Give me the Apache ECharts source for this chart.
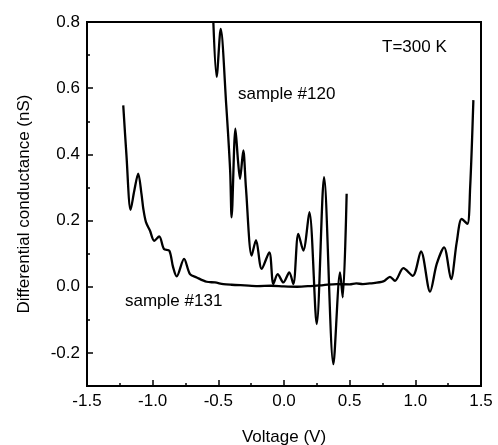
<!DOCTYPE html>
<html>
<head>
<meta charset="utf-8">
<script src="https://cdn.jsdelivr.net/npm/echarts@6/dist/echarts.min.js"></script>
<style>
html,body{margin:0;padding:0;background:#fff;}
#chart{width:498px;height:445px;}
</style>
</head>
<body>
<div id="chart"></div>
<script>
// sample #131 (voltage in V, differential conductance in nS)
const sample131V = [-1.224,-1.200,-1.168,-1.140,-1.110,-1.085,-1.071,-1.051,-1.021,-0.988,-0.950,-0.914,-0.873,-0.845,-0.817,-0.761,-0.716,-0.665,-0.589,-0.526,-0.462,-0.40,-0.30,-0.20,-0.10,0.00,0.10,0.20,0.30,0.40,0.50,0.55,0.60,0.655,0.756,0.807,0.845,0.909,0.980,1.043,1.112,1.163,1.219,1.272,1.315,1.353,1.396,1.417,1.442];
const sample131G = [0.548,0.400,0.232,0.290,0.342,0.280,0.235,0.195,0.170,0.139,0.152,0.114,0.109,0.060,0.031,0.084,0.038,0.028,0.015,0.013,0.008,0.006,0.004,0.002,0.003,0.001,0.000,0.002,0.005,0.008,0.007,0.010,0.008,0.010,0.016,0.030,0.018,0.056,0.033,0.107,-0.015,0.069,0.119,0.023,0.134,0.205,0.190,0.296,0.564];
// sample #120
const sample120V = [-0.538,-0.513,-0.482,-0.440,-0.410,-0.399,-0.370,-0.350,-0.335,-0.310,-0.290,-0.246,-0.213,-0.170,-0.112,-0.081,-0.048,-0.005,0.040,0.071,0.109,0.147,0.193,0.249,0.305,0.376,0.427,0.447,0.477];
const sample120G = [0.800,0.634,0.779,0.550,0.350,0.210,0.478,0.380,0.326,0.412,0.300,0.094,0.141,0.054,0.104,0.008,0.038,0.013,0.043,0.008,0.160,0.109,0.225,-0.113,0.331,-0.234,0.043,-0.032,0.281];
// axis ticks
const yMajorTicks = [-0.2,0.0,0.2,0.4,0.6,0.8];
const yMinorTicks = [-0.3,-0.1,0.1,0.3,0.5,0.7];
const xMin = -1.5, xMax = 1.5, xStep = 0.5;
const yMin = -0.3, yMax = 0.8;

const pair = (xs, ys) => xs.map((x, i) => [x, ys[i]]);
const font = '"Liberation Sans", Arial, Helvetica, sans-serif';

const chart = echarts.init(document.getElementById('chart'), null, {renderer: 'canvas'});
chart.setOption({
  backgroundColor: '#fff',
  animation: false,
  grid: {left: 87, right: 17, top: 22, bottom: 59, show: true, borderColor: '#000', borderWidth: 2, containLabel: false, outerBoundsMode: 'none'},
  xAxis: {
    type: 'value', min: xMin, max: xMax, interval: xStep,
    name: 'Voltage (V)', nameLocation: 'middle', nameGap: 43,
    nameTextStyle: {fontFamily: font, fontSize: 17, color: '#000'},
    axisLine: {show: true, onZero: false, lineStyle: {color: '#000', width: 2}},
    axisTick: {show: true, inside: true, length: 6, lineStyle: {color: '#000', width: 1.5}},
    minorTick: {show: true, splitNumber: 2, length: 3, lineStyle: {color: '#000', width: 1.5}},
    splitLine: {show: false}, minorSplitLine: {show: false},
    axisLabel: {fontFamily: font, fontSize: 17, color: '#000', margin: 7, formatter: v => v.toFixed(1)}
  },
  yAxis: [{
    type: 'value', min: yMin, max: yMax,
    name: 'Differential conductance (nS)', nameLocation: 'middle', nameGap: 54,
    nameTextStyle: {fontFamily: font, fontSize: 17, color: '#000'},
    axisLine: {show: true, onZero: false, lineStyle: {color: '#000', width: 2}},
    axisTick: {show: true, inside: true, length: 6, customValues: yMajorTicks, lineStyle: {color: '#000', width: 1.5}},
    splitLine: {show: false},
    axisLabel: {fontFamily: font, fontSize: 17, color: '#000', margin: 7, customValues: yMajorTicks, formatter: v => v.toFixed(1)}
  }, {
    type: 'value', min: yMin, max: yMax, position: 'left',
    axisLine: {show: false, onZero: false},
    axisTick: {show: true, inside: true, length: 3, customValues: yMinorTicks, lineStyle: {color: '#000', width: 1.5}},
    splitLine: {show: false},
    axisLabel: {show: false}
  }],
  series: [{
    name: 'sample #131', type: 'line', data: pair(sample131V, sample131G),
    yAxisIndex: 0, smooth: 0.3, showSymbol: false, symbol: 'none', clip: true,
    lineStyle: {color: '#000', width: 2.3}
  }, {
    name: 'sample #120', type: 'line', data: pair(sample120V, sample120G),
    yAxisIndex: 0, smooth: 0.3, showSymbol: false, symbol: 'none', clip: true,
    lineStyle: {color: '#000', width: 2.3}
  }],
  graphic: [
    {type: 'text', left: 382, top: 39, style: {text: 'T=300 K', fontFamily: font, fontSize: 17, fill: '#000'}},
    {type: 'text', left: 238, top: 86, style: {text: 'sample #120', fontFamily: font, fontSize: 17, fill: '#000'}},
    {type: 'text', left: 125, top: 293, style: {text: 'sample #131', fontFamily: font, fontSize: 17, fill: '#000'}}
  ]
});
</script>
</body>
</html>
